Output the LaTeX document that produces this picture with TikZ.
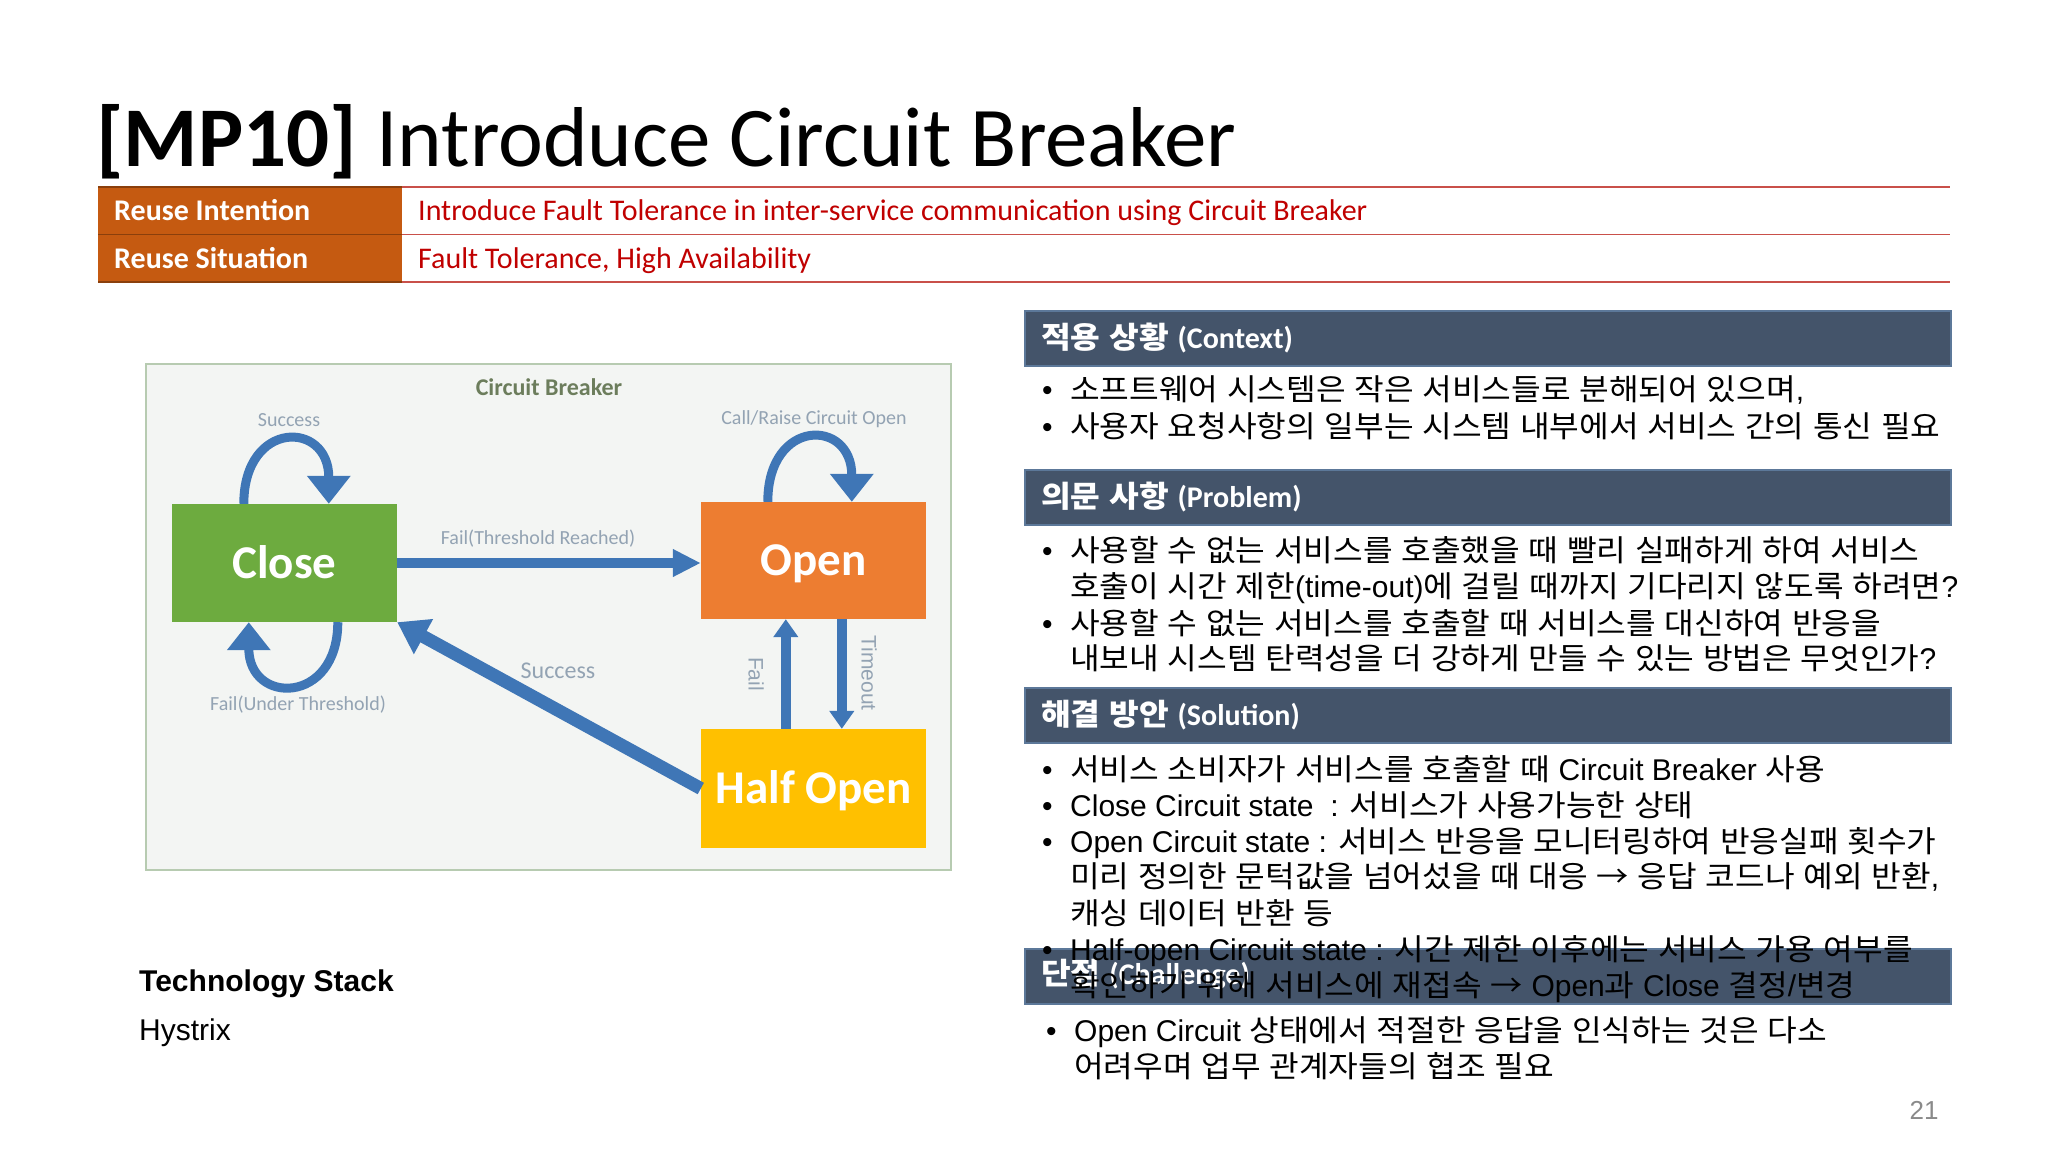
\documentclass[tikz,border=0pt]{standalone}
\usepackage{fontspec}
\setmainfont{Liberation Sans}
\newfontfamily\calib{Carlito}
\newfontfamily\kr[FakeStretch=1.075, WordSpace=1.2]{Noto Sans CJK KR}
\usetikzlibrary{arrows.meta}
\newcommand\fsz[1]{\fontsize{#1}{#1}\selectfont}
\newcommand\en[1]{{\normalfont #1}}
\definecolor{taborange}{HTML}{C55A11}
\definecolor{tabred}{HTML}{C00000}
\definecolor{tabline}{HTML}{C9504A}
\definecolor{hdrblue}{HTML}{44546A}
\definecolor{hdredge}{HTML}{5C7899}
\definecolor{diagbg}{HTML}{F3F5F3}
\definecolor{diagedge}{HTML}{B7CBB1}
\definecolor{cbgreen}{HTML}{6DAB3F}
\definecolor{cborange}{HTML}{ED7D31}
\definecolor{cbyellow}{HTML}{FFC000}
\definecolor{flowblue}{HTML}{3F76B6}
\definecolor{lblgrey}{HTML}{93A3B3}
\definecolor{cbtitle}{HTML}{6C7D5C}
\definecolor{pagegrey}{HTML}{8A8A8A}
\tikzset{
  state/.style={inner sep=0, minimum width=225pt, text=white, font=\calib\bfseries\fsz{47}, text height=30pt, text depth=0pt},
  flow/.style={draw=flowblue},
  lbl/.style={inner sep=0, text=lblgrey, font=\calib\fsz{20}},
  hdr/.style={anchor=north west, inner sep=0, minimum width=926pt, minimum height=55pt, fill=hdrblue, draw=hdredge, line width=1.5pt},
  hdrtxt/.style={anchor=base west, inner sep=0, text=white, font=\kr\bfseries\fsz{30}},
  body/.style={anchor=base west, inner sep=0, font=\kr\fsz{30}},
  bul/.style={anchor=base west, inner sep=0, font=\normalfont\fsz{30}},
  rowlbl/.style={anchor=base west, inner sep=0, text=white, font=\calib\bfseries\fsz{30}},
  rowtxt/.style={anchor=base west, inner sep=0, text=tabred, font=\calib\fsz{30}},
}
\begin{document}
\begin{tikzpicture}[x=1pt,y=-1pt]
\useasboundingbox (0,0) rectangle (2048,1152);
\fill[white] (0,0) rectangle (2048,1152);

% title
\node[anchor=base west, inner sep=0] (title) at (96,166) {\calib\fsz{85}\textbf{[MP10]} Introduce Circuit Breaker};

% table
\fill[taborange] (98,187) rectangle (402,282);
\draw[tabline, line width=1.5pt] (98,187) -- (1950,187);
\draw[tabline, line width=1.5pt] (98,234.5) -- (1950,234.5);
\draw[tabline, line width=1.5pt] (98,282) -- (1950,282);
\draw[taborange!70!black, line width=1.5pt] (98,187) -- (402,187) (98,234.5) -- (402,234.5) (98,282) -- (402,282);
\node[rowlbl] (r1l) at (114,220) {Reuse Intention};
\node[rowlbl] (r2l) at (114,268) {Reuse Situation};
\node[rowtxt] (r1t) at (418,220) {Introduce Fault Tolerance in inter-service communication using Circuit Breaker};
\node[rowtxt] (r2t) at (418,268) {Fault Tolerance, High Availability};

% diagram frame
\draw[diagedge, fill=diagbg, line width=2pt] (146,364) rectangle (951,870);
\node[inner sep=0, text=cbtitle, font=\calib\bfseries\fsz{24}] (cbt) at (549,387) {Circuit Breaker};

\node[state, fill=cbgreen, minimum height=118pt] (close) at (284.5,563) {Close};
\node[state, fill=cborange, minimum height=117pt] (open) at (813.5,560.5) {Open};
\node[state, fill=cbyellow, minimum height=119pt] (half) at (813.5,788.5) {Half Open};

% transitions
\draw[flow, line width=10pt, -{Triangle[length=28pt,width=26pt]}] (close.east) -- (close.east -| open.west);
\draw[flow, line width=13pt, -{Triangle[length=30pt,width=38pt]}] (half.west) -- (close.south east);
\draw[flow, line width=10pt, -{Triangle[length=18pt,width=24pt]}] ([xshift=85pt]half.north west) -- ([xshift=85pt]open.south west);
\draw[flow, line width=10pt, -{Triangle[length=18pt,width=24pt]}] ([xshift=141pt]open.south west) -- ([xshift=141pt]half.north west);
\draw[flow, line width=9pt, -{Triangle[length=28pt,width=42pt]}] ([xshift=72pt]close.north west) .. controls +(0,-84) and +(0,-84) .. ([xshift=157pt]close.north west);
\draw[flow, line width=9pt, -{Triangle[length=28pt,width=42pt]}] ([xshift=166pt]close.south west) .. controls +(0,83) and +(0,83) .. ([xshift=77pt]close.south west);
\draw[flow, line width=9pt, -{Triangle[length=28pt,width=42pt]}] ([xshift=67pt]open.north west) .. controls +(0,-84) and +(0,-84) .. ([xshift=151pt]open.north west);

% diagram labels
\node[lbl] (lsucc1) at (289,420) {Success};
\node[lbl] (lcall) at (814,419) {Call/Raise Circuit Open};
\node[lbl] (lthr) at (538,539) {Fail(Threshold Reached)};
\node[lbl, font=\calib\fsz{24}] (lsucc2) at (558,671) {Success};
\node[lbl] (lunder) at (298,705) {Fail(Under Threshold)};
\node[lbl, font=\normalfont\fsz{21}, rotate=-90] (lfail) at (756,674) {Fail};
\node[lbl, font=\normalfont\fsz{21}, rotate=-90] (ltime) at (869,673) {Timeout};

% technology stack
\node[anchor=base west, inner sep=0, font=\bfseries\fsz{30}] (tech) at (139,991) {Technology Stack};
\node[anchor=base west, inner sep=0, font=\fsz{30}] (hyst) at (139,1040) {Hystrix};

% right panels: headers
\node[hdr] (hctx) at (1024,310) {};
\node[hdr] (hprob) at (1024,469) {};
\node[hdr] (hsol) at (1024,687) {};
\node[hdr] (hchal) at (1024,948) {};
\node[hdrtxt] (tctx) at (1041,348) {적용 상황 {\calib\bfseries (Context)}};
\node[hdrtxt] (tprob) at (1041,507) {의문 사항 {\calib\bfseries (Problem)}};
\node[hdrtxt] (tsol) at (1041,725) {해결 방안 {\calib\bfseries (Solution)}};
\node[hdrtxt] (tchal) at (1041,984) {단점 {\calib\bfseries (Challenge)}};

% context
\node[bul] (cb1) at (1042,400) {•};
\node[body] (c1) at (1070,400) {소프트웨어 시스템은 작은 서비스들로 분해되어 있으며\en{,}};
\node[bul] (cb2) at (1042,437) {•};
\node[body] (c2) at (1070,437) {사용자 요청사항의 일부는 시스템 내부에서 서비스 간의 통신 필요};

% problem
\node[bul] (pb1) at (1042,561) {•};
\node[body] (p1) at (1070,561) {사용할 수 없는 서비스를 호출했을 때 빨리 실패하게 하여 서비스};
\node[body] (p2) at (1070,597) {호출이 시간 제한\en{(time-out)}에 걸릴 때까지 기다리지 않도록 하려면\en{?}};
\node[bul] (pb3) at (1042,634) {•};
\node[body] (p3) at (1070,634) {사용할 수 없는 서비스를 호출할 때 서비스를 대신하여 반응을};
\node[body] (p4) at (1070,669) {내보내 시스템 탄력성을 더 강하게 만들 수 있는 방법은 무엇인가\en{?}};

% solution
\node[bul] (sb1) at (1042,780) {•};
\node[body] (s1) at (1070,780) {서비스 소비자가 서비스를 호출할 때 \en{Circuit Breaker} 사용};
\node[bul] (sb2) at (1042,816) {•};
\node[body] (s2) at (1070,816) {\en{Close Circuit state\ \ :} 서비스가 사용가능한 상태};
\node[bul] (sb3) at (1042,852) {•};
\node[body] (s3) at (1070,852) {\en{Open Circuit state :} 서비스 반응을 모니터링하여 반응실패 횟수가};
\node[body] (s4) at (1070,887) {미리 정의한 문턱값을 넘어섰을 때 대응 → 응답 코드나 예외 반환\en{,}};
\node[body] (s5) at (1070,924) {캐싱 데이터 반환 등};
\node[bul] (sb6) at (1042,960) {•};
\node[body] (s6) at (1070,960) {\en{Half-open Circuit state :} 시간 제한 이후에는 서비스 가용 여부를};
\node[body] (s7) at (1070,996) {확인하기 위해 서비스에 재접속 → \en{Open}과 \en{Close} 결정\en{/}변경};

% challenge
\node[bul] (chb1) at (1046,1041) {•};
\node[body] (ch1) at (1074,1041) {\en{Open Circuit} 상태에서 적절한 응답을 인식하는 것은 다소};
\node[body] (ch2) at (1074,1077) {어려우며 업무 관계자들의 협조 필요};

% page number
\node[inner sep=0, text=pagegrey, font=\fsz{26}] (pg) at (1924,1110) {21};
\end{tikzpicture}
\end{document}
